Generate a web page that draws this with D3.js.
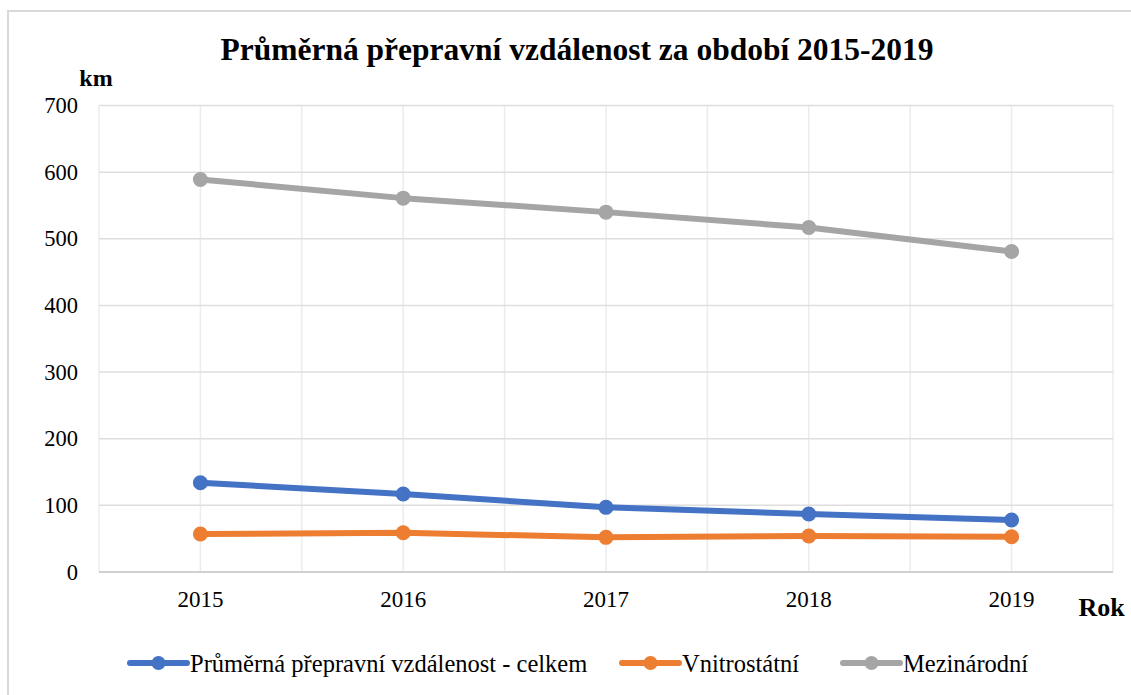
<!DOCTYPE html>
<html>
<head>
<meta charset="utf-8">
<script src="https://cdn.jsdelivr.net/npm/d3@7"></script>
<style>
  html, body { margin: 0; padding: 0; background: #fff; }
  svg { display: block; }
</style>
</head>
<body>
<svg id="chart" width="1131" height="695"></svg>
<script>
const title = "Průměrná přepravní vzdálenost za období 2015-2019";
const yAxisTitle = "km";
const xAxisTitle = "Rok";
const years = ["2015", "2016", "2017", "2018", "2019"];
const yTicks = [0, 100, 200, 300, 400, 500, 600, 700];
const seriesNames = ["Průměrná přepravní vzdálenost - celkem", "Vnitrostátní", "Mezinárodní"];
const seriesColors = ["#4472C4", "#ED7D31", "#A5A5A5"];
const celkem = [134, 117, 97, 87, 78];
const vnitrostatni = [57, 59, 52, 54, 53];
const mezinarodni = [589, 561, 540, 517, 481];

const FONT = '"Liberation Serif"';

const series = [
  { name: seriesNames[0], color: seriesColors[0], values: celkem },
  { name: seriesNames[1], color: seriesColors[1], values: vnitrostatni },
  { name: seriesNames[2], color: seriesColors[2], values: mezinarodni }
];

const svg = d3.select("#chart");
const W = 1131, H = 695;
const plot = { left: 99, right: 1113, top: 105.5, bottom: 572 };

svg.append("rect")
  .attr("x", 8).attr("y", 11)
  .attr("width", W + 20).attr("height", H + 20)
  .attr("fill", "none").attr("stroke", "#d9d9d9").attr("stroke-width", 2);

const x = d3.scaleBand().domain(years).range([plot.left, plot.right]).padding(0);
const bw = x.bandwidth();
const cx = d => x(d) + bw / 2;
const y = d3.scaleLinear().domain([0, 700]).range([plot.bottom, plot.top]);

const vLines = [];
years.forEach(yr => { vLines.push(x(yr)); vLines.push(cx(yr)); });
vLines.push(plot.right);
svg.append("g").selectAll("line").data(vLines).join("line")
  .attr("x1", d => d).attr("x2", d => d)
  .attr("y1", plot.top).attr("y2", plot.bottom)
  .attr("stroke", "#ececec").attr("stroke-width", 1.5);

svg.append("g").selectAll("line").data(yTicks).join("line")
  .attr("x1", plot.left).attr("x2", plot.right)
  .attr("y1", d => y(d)).attr("y2", d => y(d))
  .attr("stroke", d => d === 0 ? "#d0d0d0" : "#dedede")
  .attr("stroke-width", d => d === 0 ? 2 : 1.5);

svg.append("g").selectAll("text").data(yTicks).join("text")
  .style("font-family", FONT)
  .attr("x", 78).attr("y", d => y(d))
  .attr("text-anchor", "end").attr("dominant-baseline", "central")
  .attr("font-size", 22.5)
  .text(d => d);

svg.append("g").selectAll("text").data(years).join("text")
  .style("font-family", FONT)
  .attr("x", d => cx(d)).attr("y", 607)
  .attr("text-anchor", "middle")
  .attr("font-size", 23)
  .text(d => d);

svg.append("text")
  .style("font-family", FONT)
  .attr("x", 577).attr("y", 60)
  .attr("text-anchor", "middle")
  .attr("font-size", 31.5).attr("font-weight", "bold")
  .text(title);

svg.append("text")
  .style("font-family", FONT)
  .attr("x", 96).attr("y", 86)
  .attr("text-anchor", "middle")
  .attr("font-size", 24).attr("font-weight", "bold")
  .text(yAxisTitle);

svg.append("text")
  .style("font-family", FONT)
  .attr("x", 1101.5).attr("y", 616)
  .attr("text-anchor", "middle")
  .attr("font-size", 26).attr("font-weight", "bold")
  .text(xAxisTitle);

const line = d3.line().x((d, i) => cx(years[i])).y(d => y(d));
const sg = svg.append("g").selectAll("g").data(series).join("g");
sg.append("path")
  .attr("d", d => line(d.values))
  .attr("fill", "none").attr("stroke", d => d.color)
  .attr("stroke-width", 6).attr("stroke-linejoin", "round").attr("stroke-linecap", "round");
sg.selectAll("circle").data(d => d.values.map(v => ({ v, c: d.color }))).join("circle")
  .attr("cx", (d, i) => cx(years[i])).attr("cy", d => y(d.v))
  .attr("r", 7.5).attr("fill", d => d.c);

const legendY = 663;
const legendX = [130, 622, 843];
const lg = svg.append("g").selectAll("g").data(series).join("g")
  .attr("transform", (d, i) => `translate(${legendX[i]},${legendY})`);
lg.append("line").attr("x1", 0).attr("x2", 57).attr("y1", 0).attr("y2", 0)
  .attr("stroke", d => d.color).attr("stroke-width", 6).attr("stroke-linecap", "round");
lg.append("circle").attr("cx", 28.5).attr("cy", 0).attr("r", 7).attr("fill", d => d.color);
lg.append("text").attr("x", 60).attr("y", 0)
  .style("font-family", FONT)
  .attr("dominant-baseline", "central")
  .attr("font-size", 24.5)
  .text(d => d.name);
</script>
</body>
</html>
